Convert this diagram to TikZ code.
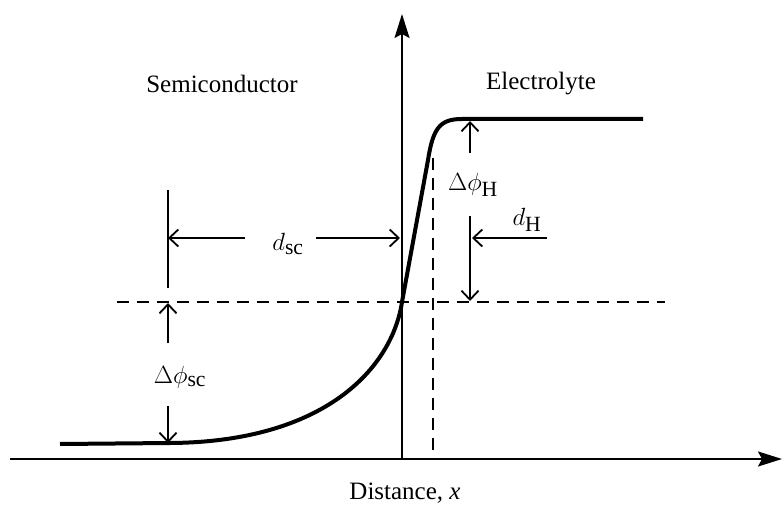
\documentclass[tikz,border=0pt]{standalone}
\usepackage{fontspec}
\setmainfont{Liberation Serif}
\usetikzlibrary{arrows.meta}

\begin{document}
\begin{tikzpicture}[x=1pt,y=-1pt,
  axis/.style={line width=1.8pt,-{Stealth[length=24pt,width=15pt,inset=4pt]}},
  profile/.style={line width=4pt,line join=round},
  guide/.style={line width=1.4pt,dash pattern=on 12pt off 8pt},
  dim/.style={line width=1.6pt,-{Straight Barb[length=9pt,width=17pt,line width=1.8pt]}},
  txt/.style={font=\fontsize{25}{30}\selectfont},
  sym/.style={font=\fontsize{31}{36}\selectfont}]
\useasboundingbox (0,0) rectangle (782,508);

% axes
\coordinate (origin) at (402,459);
\coordinate (xstart) at (10,459);
\coordinate (xend) at (782,459);
\coordinate (ytop) at (402,14);
\draw[axis] (xstart) -- (xend);
\draw[axis] (origin) -- (ytop);

% reference lines
\coordinate (hleft) at (117,302);
\coordinate (hright) at (665,302);
\coordinate (vtop) at (433,158);
\coordinate (vbot) at (433,459);
\draw[guide] (hleft) -- (hright);
\draw[guide] (vtop) -- (vbot);

% potential profile
\draw[profile] (60,444) -- (170,443)
  .. controls (325,442) and (392,368) .. (402,302)
  -- (428,160)
  .. controls (433,128) and (440,119) .. (462,119)
  -- (643,119);

% space charge width
\coordinate (ticktop) at (168,190);
\coordinate (tickbot) at (168,288);
\draw[line width=1.6pt] (ticktop) -- (tickbot);
\node[sym] (dsc) at (288,244) {$d_{\mathrm{sc}}$};
\coordinate (dscl) at (245,238);
\coordinate (dscr) at (316,238);
\draw[dim] (dscl) -- (168,238);
\draw[dim] (dscr) -- (400,238);

% Helmholtz width
\node[sym] (dH) at (527,220) {$d_{\mathrm{H}}$};
\coordinate (dHr) at (547,238);
\coordinate (dHl) at (472,238);
\draw[dim] (dHr) -- (dHl);

% Helmholtz drop
\node[sym] (phiH) at (473,185) {$\Delta\phi_{\mathrm{H}}$};
\coordinate (phiHtop) at (470,121);
\coordinate (phiHbot) at (470,301);
\draw[dim] (470,153) -- (phiHtop);
\draw[dim] (470,216) -- (phiHbot);

% space charge drop
\node[sym] (phisc) at (180,377) {$\Delta\phi_{\mathrm{sc}}$};
\coordinate (phisctop) at (168,303);
\coordinate (phiscbot) at (168,443);
\draw[dim] (168,343) -- (phisctop);
\draw[dim] (168,406) -- (phiscbot);

% labels
\node[txt] (semi) at (222,84) {Semiconductor};
\node[txt] (elec) at (541,84) {Electrolyte};
\node[txt] (dist) at (405,493) {Distance, \textit{x}};
\end{tikzpicture}
\end{document}
